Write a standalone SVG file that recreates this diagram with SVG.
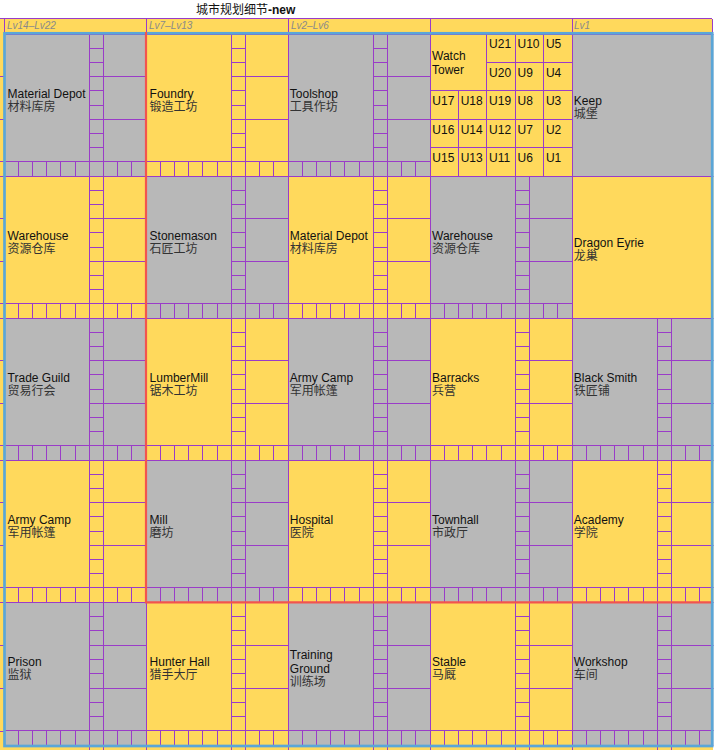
<svg xmlns="http://www.w3.org/2000/svg" width="718" height="750" viewBox="0 0 718 750">
<style>
.y{fill:#FFD95C}
.g{fill:#B8B8B8}
.ln{stroke:#9A3CC8;stroke-width:1;shape-rendering:crispEdges}
.pl{stroke:#9A3CC8;stroke-width:1;fill:none;shape-rendering:crispEdges}
.t{font-family:"Liberation Sans",Arial,"Noto Sans CJK SC",sans-serif;font-size:12px;fill:#111}
.zh{font-family:"Liberation Sans","Noto Sans CJK SC",sans-serif;fill:#333}
.lv{font-family:"Liberation Sans",Arial,sans-serif;font-size:10px;font-style:italic;fill:#8A8A8A}
.ttl{font-family:"Liberation Sans","Noto Sans CJK SC",sans-serif;font-size:12px;fill:#111}
</style>
<defs>
<clipPath id="clip"><rect x="0" y="0" width="713.4" height="750"/></clipPath>
<g id="cell">
<rect class="ln" x="0" y="0" width="85.2" height="127.8"/>
<rect class="ln" x="85.2" y="0" width="14.2" height="14.2"/>
<rect class="ln" x="85.2" y="14.2" width="14.2" height="14.2"/>
<rect class="ln" x="85.2" y="28.4" width="14.2" height="14.2"/>
<rect class="ln" x="85.2" y="42.6" width="14.2" height="14.2"/>
<rect class="ln" x="85.2" y="56.8" width="14.2" height="14.2"/>
<rect class="ln" x="85.2" y="71" width="14.2" height="14.2"/>
<rect class="ln" x="85.2" y="85.2" width="14.2" height="14.2"/>
<rect class="ln" x="85.2" y="99.4" width="14.2" height="14.2"/>
<rect class="ln" x="85.2" y="113.6" width="14.2" height="14.2"/>
<rect class="ln" x="99.4" y="0" width="42.6" height="42.6"/>
<rect class="ln" x="99.4" y="42.6" width="42.6" height="42.6"/>
<rect class="ln" x="99.4" y="85.2" width="42.6" height="42.6"/>
<rect class="ln" x="0" y="127.8" width="14.2" height="14.2"/>
<rect class="ln" x="14.2" y="127.8" width="14.2" height="14.2"/>
<rect class="ln" x="28.4" y="127.8" width="14.2" height="14.2"/>
<rect class="ln" x="42.6" y="127.8" width="14.2" height="14.2"/>
<rect class="ln" x="56.8" y="127.8" width="14.2" height="14.2"/>
<rect class="ln" x="71" y="127.8" width="14.2" height="14.2"/>
<rect class="ln" x="85.2" y="127.8" width="14.2" height="14.2"/>
<rect class="ln" x="99.4" y="127.8" width="14.2" height="14.2"/>
<rect class="ln" x="113.6" y="127.8" width="14.2" height="14.2"/>
<rect class="ln" x="127.8" y="127.8" width="14.2" height="14.2"/>
</g>
</defs>

<g id="title"><text class="ttl" x="196" y="13.5">城市规划细节<tspan font-weight="bold">-new</tspan></text></g>

<g id="header">
<rect class="y" x="0" y="18.5" width="712" height="15"/>
<path class="pl" d="M0 18.5H712M4.5 18.5V33M146 18.5V33M288 18.5V33M430 18.5V33M572 18.5V33M712 18.5V33"/>
<text class="lv" x="7" y="29.3">Lv14–Lv22</text>
<text class="lv" x="149" y="29.3">Lv7–Lv13</text>
<text class="lv" x="291" y="29.3">Lv2–Lv6</text>
<text class="lv" x="574" y="29.3">Lv1</text>
</g>

<g id="edge-strips">
<rect class="y" x="0" y="33" width="4.5" height="717"/>
<rect class="y" x="0" y="744" width="713" height="6"/>
<path class="pl" d="M0 76.6H4M0 119.2H4M0 161.8H4M0 176H4M0 218.6H4M0 261.2H4M0 303.8H4M0 318H4M0 360.6H4M0 403.2H4M0 445.8H4M0 460H4M0 502.6H4M0 545.2H4M0 587.8H4M0 602.5H4M0 645H4M0 688H4M0 731H4M89.2 745V750M103.4 745V750M146 745V750M231.2 745V750M245.4 745V750M288 745V750M373.2 745V750M387.4 745V750M430 745V750M515.2 745V750M529.4 745V750M572 745V750M657.2 745V750M671.4 745V750"/>
</g>

<g id="nodes" clip-path="url(#clip)">
<g id="r1c1-material-depot"><use href="#cell" x="4" y="34" class="g"/><text class="t" x="7.6" y="97.6">Material Depot</text><text class="t zh" x="7.6" y="110.6">材料库房</text></g>
<g id="r1c2-foundry"><use href="#cell" x="146" y="34" class="y"/><text class="t" x="149.6" y="97.6">Foundry</text><text class="t zh" x="149.6" y="110.6">锻造工坊</text></g>
<g id="r1c3-toolshop"><use href="#cell" x="288" y="34" class="g"/><text class="t" x="289.8" y="97.6">Toolshop</text><text class="t zh" x="289.8" y="110.6">工具作坊</text></g>
<g id="r1c4-watch-tower">
<rect class="y ln" x="430" y="34" width="56.8" height="56.8"/>
<rect class="y ln" x="486.8" y="34" width="28.4" height="28.4"/><rect class="y ln" x="515.2" y="34" width="28.4" height="28.4"/><rect class="y ln" x="543.6" y="34" width="28.4" height="28.4"/>
<rect class="y ln" x="486.8" y="62.4" width="28.4" height="28.4"/><rect class="y ln" x="515.2" y="62.4" width="28.4" height="28.4"/><rect class="y ln" x="543.6" y="62.4" width="28.4" height="28.4"/>
<rect class="y ln" x="430" y="90.8" width="28.4" height="28.4"/><rect class="y ln" x="458.4" y="90.8" width="28.4" height="28.4"/><rect class="y ln" x="486.8" y="90.8" width="28.4" height="28.4"/><rect class="y ln" x="515.2" y="90.8" width="28.4" height="28.4"/><rect class="y ln" x="543.6" y="90.8" width="28.4" height="28.4"/>
<rect class="y ln" x="430" y="119.2" width="28.4" height="28.4"/><rect class="y ln" x="458.4" y="119.2" width="28.4" height="28.4"/><rect class="y ln" x="486.8" y="119.2" width="28.4" height="28.4"/><rect class="y ln" x="515.2" y="119.2" width="28.4" height="28.4"/><rect class="y ln" x="543.6" y="119.2" width="28.4" height="28.4"/>
<rect class="y ln" x="430" y="147.6" width="28.4" height="28.4"/><rect class="y ln" x="458.4" y="147.6" width="28.4" height="28.4"/><rect class="y ln" x="486.8" y="147.6" width="28.4" height="28.4"/><rect class="y ln" x="515.2" y="147.6" width="28.4" height="28.4"/><rect class="y ln" x="543.6" y="147.6" width="28.4" height="28.4"/>
<text class="t" x="432" y="60">Watch</text><text class="t" x="432" y="74">Tower</text>
<text class="t" x="489.1" y="48.4">U21</text><text class="t" x="517.5" y="48.4">U10</text><text class="t" x="545.9" y="48.4">U5</text>
<text class="t" x="489.1" y="76.8">U20</text><text class="t" x="517.5" y="76.8">U9</text><text class="t" x="545.9" y="76.8">U4</text>
<text class="t" x="432.3" y="105.1">U17</text><text class="t" x="460.7" y="105.1">U18</text><text class="t" x="489.1" y="105.1">U19</text><text class="t" x="517.5" y="105.1">U8</text><text class="t" x="545.9" y="105.1">U3</text>
<text class="t" x="432.3" y="133.5">U16</text><text class="t" x="460.7" y="133.5">U14</text><text class="t" x="489.1" y="133.5">U12</text><text class="t" x="517.5" y="133.5">U7</text><text class="t" x="545.9" y="133.5">U2</text>
<text class="t" x="432.3" y="161.9">U15</text><text class="t" x="460.7" y="161.9">U13</text><text class="t" x="489.1" y="161.9">U11</text><text class="t" x="517.5" y="161.9">U6</text><text class="t" x="545.9" y="161.9">U1</text>
</g>
<g id="r1c5-keep"><rect class="g ln" x="572" y="34" width="142" height="142"/><text class="t" x="573.8" y="104.5">Keep</text><text class="t zh" x="573.8" y="117.5">城堡</text></g>

<g id="r2c1-warehouse"><use href="#cell" x="4" y="176" class="y"/><text class="t" x="7.6" y="239.6">Warehouse</text><text class="t zh" x="7.6" y="252.6">资源仓库</text></g>
<g id="r2c2-stonemason"><use href="#cell" x="146" y="176" class="g"/><text class="t" x="149.6" y="239.6">Stonemason</text><text class="t zh" x="149.6" y="252.6">石匠工坊</text></g>
<g id="r2c3-material-depot"><use href="#cell" x="288" y="176" class="y"/><text class="t" x="289.8" y="239.6">Material Depot</text><text class="t zh" x="289.8" y="252.6">材料库房</text></g>
<g id="r2c4-warehouse"><use href="#cell" x="430" y="176" class="g"/><text class="t" x="432" y="239.6">Warehouse</text><text class="t zh" x="432" y="252.6">资源仓库</text></g>
<g id="r2c5-dragon-eyrie"><rect class="y ln" x="572" y="176" width="142" height="142"/><text class="t" x="573.8" y="246.7">Dragon Eyrie</text><text class="t zh" x="573.8" y="259.7">龙巢</text></g>

<g id="r3c1-trade-guild"><use href="#cell" x="4" y="318" class="g"/><text class="t" x="7.6" y="381.6">Trade Guild</text><text class="t zh" x="7.6" y="394.6">贸易行会</text></g>
<g id="r3c2-lumbermill"><use href="#cell" x="146" y="318" class="y"/><text class="t" x="149.6" y="381.6">LumberMill</text><text class="t zh" x="149.6" y="394.6">锯木工坊</text></g>
<g id="r3c3-army-camp"><use href="#cell" x="288" y="318" class="g"/><text class="t" x="289.8" y="381.6">Army Camp</text><text class="t zh" x="289.8" y="394.6">军用帐篷</text></g>
<g id="r3c4-barracks"><use href="#cell" x="430" y="318" class="y"/><text class="t" x="432" y="381.6">Barracks</text><text class="t zh" x="432" y="394.6">兵营</text></g>
<g id="r3c5-black-smith"><use href="#cell" x="572" y="318" class="g"/><text class="t" x="573.8" y="381.6">Black Smith</text><text class="t zh" x="573.8" y="394.6">铁匠铺</text></g>

<g id="r4c1-army-camp"><use href="#cell" x="4" y="460" class="y"/><text class="t" x="7.6" y="523.6">Army Camp</text><text class="t zh" x="7.6" y="536.6">军用帐篷</text></g>
<g id="r4c2-mill"><use href="#cell" x="146" y="460" class="g"/><text class="t" x="149.6" y="523.6">Mill</text><text class="t zh" x="149.6" y="536.6">磨坊</text></g>
<g id="r4c3-hospital"><use href="#cell" x="288" y="460" class="y"/><text class="t" x="289.8" y="523.6">Hospital</text><text class="t zh" x="289.8" y="536.6">医院</text></g>
<g id="r4c4-townhall"><use href="#cell" x="430" y="460" class="g"/><text class="t" x="432" y="523.6">Townhall</text><text class="t zh" x="432" y="536.6">市政厅</text></g>
<g id="r4c5-academy"><use href="#cell" x="572" y="460" class="y"/><text class="t" x="573.8" y="523.6">Academy</text><text class="t zh" x="573.8" y="536.6">学院</text></g>

<g id="r5c1-prison"><use href="#cell" class="g" transform="translate(4 602.3) scale(1 1.007)"/><text class="t" x="7.6" y="666.2">Prison</text><text class="t zh" x="7.6" y="679.2">监狱</text></g>
<g id="r5c2-hunter-hall"><use href="#cell" class="y" transform="translate(146 602.3) scale(1 1.007)"/><text class="t" x="149.6" y="666.2">Hunter Hall</text><text class="t zh" x="149.6" y="679.2">猎手大厅</text></g>
<g id="r5c3-training-ground"><use href="#cell" class="g" transform="translate(288 602.3) scale(1 1.007)"/><text class="t" x="289.8" y="659">Training</text><text class="t" x="289.8" y="673">Ground</text><text class="t zh" x="289.8" y="686.3">训练场</text></g>
<g id="r5c4-stable"><use href="#cell" class="y" transform="translate(430 602.3) scale(1 1.007)"/><text class="t" x="432" y="666.2">Stable</text><text class="t zh" x="432" y="679.2">马厩</text></g>
<g id="r5c5-workshop"><use href="#cell" class="g" transform="translate(572 602.3) scale(1 1.007)"/><text class="t" x="573.8" y="666.2">Workshop</text><text class="t zh" x="573.8" y="679.2">车间</text></g>
</g>

<g id="borders" fill="none">
<rect x="4.5" y="33.3" width="707.7" height="712.7" stroke="#5AA6D8" stroke-width="2.7"/>
<path d="M146 32V602.3H711" stroke="#F2544E" stroke-width="2.2"/>
</g>
</svg>
